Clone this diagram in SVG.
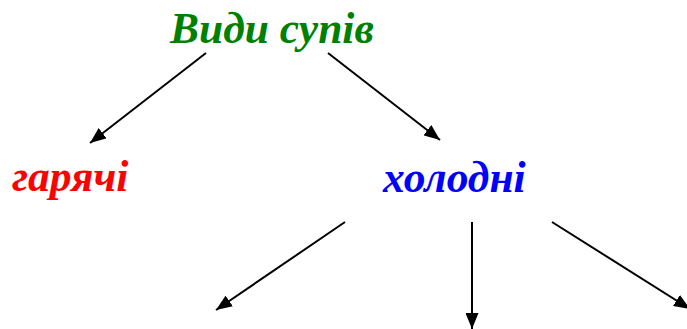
<svg xmlns="http://www.w3.org/2000/svg" width="687" height="329" viewBox="0 0 687 329">
<defs>
<marker id="ah" viewBox="0 0 16 13" refX="16" refY="6.5" markerWidth="16" markerHeight="13" markerUnits="userSpaceOnUse" orient="auto">
<path d="M0,0 L16,6.5 L0,13 Z" fill="#000"/>
</marker>
<style>
.t{font-family:"Liberation Serif","Times New Roman",serif;font-weight:bold;font-style:italic;font-size:43.5px}
.c{stroke:#000;stroke-width:2;fill:none;marker-end:url(#ah)}
</style>
</defs>
<rect width="687" height="329" fill="#fff"/>
<g id="connectors">
<line class="c" x1="206" y1="53" x2="90" y2="143"/>
<line class="c" x1="328" y1="53" x2="440" y2="140"/>
<line class="c" x1="345" y1="222" x2="216" y2="310"/>
<line class="c" x1="472" y1="222" x2="472" y2="329"/>
<line class="c" x1="552" y1="222" x2="690" y2="309"/>
</g>
<g id="n-vydy"><text class="t" x="170" y="43" fill="#008000">Види супів</text></g>
<g id="n-hariachi"><text class="t" x="12" y="191" fill="#ff0000">гарячі</text></g>
<g id="n-kholodni"><text class="t" x="383" y="192" fill="#0000ff">холодні</text></g>
</svg>
